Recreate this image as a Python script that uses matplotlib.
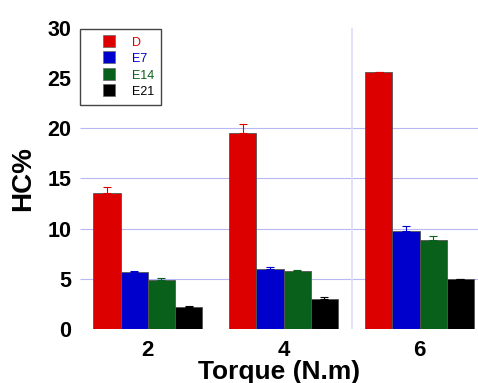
import numpy as np
import matplotlib.pyplot as plt
from matplotlib.lines import Line2D

# data
torque = [2, 4, 6]
series = ['D', 'E7', 'E14', 'E21']
hc_D = [13.5, 19.5, 25.6]
hc_E7 = [5.7, 6.0, 9.75]
hc_E14 = [4.9, 5.8, 8.9]
hc_E21 = [2.15, 3.0, 4.95]
err_D = [0.6, 0.9, 0.0]
err_E7 = [0.05, 0.2, 0.5]
err_E14 = [0.15, 0.05, 0.4]
err_E21 = [0.1, 0.2, 0.05]

colors = ['#dd0000', '#0000cc', '#08601a', '#000000']

plt.rcParams['font.family'] = ['Liberation Sans', 'DejaVu Sans']

fig = plt.figure(figsize=(4.78, 3.83), dpi=100)
ax = fig.add_axes([0.167, 0.141, 0.833, 0.787])

values = [hc_D, hc_E7, hc_E14, hc_E21]
errs = [err_D, err_E7, err_E14, err_E21]
width = 0.4
x = np.array(torque, dtype=float)

# light grid lines
ax.hlines([5, 10, 15, 20], 1, 7, colors='#b8b8f4', linewidth=0.8, zorder=0)
ax.vlines([5], 0, 30, colors='#dcdcfa', linewidth=1.2, zorder=0)

for i, (name, vals, e, c) in enumerate(zip(series, values, errs, colors)):
    offset = (i - 1.5) * width
    ax.bar(x + offset, vals, width, color=c, edgecolor='#555555', linewidth=0.6,
           zorder=2)
    ax.errorbar(x + offset, vals, yerr=[np.zeros(3), e], fmt='none', ecolor=c,
                elinewidth=0.8, capsize=3, capthick=0.8, zorder=3)

ax.set_xlim(1, 6.86)
ax.set_ylim(0, 30)
ax.set_xticks(torque)
ax.set_xticklabels([str(t) for t in torque])
ax.set_yticks([0, 5, 10, 15, 20, 25, 30])
for s in ax.spines.values():
    s.set_visible(False)
ax.tick_params(length=0, labelsize=15.5, pad=6)
for lab in ax.get_xticklabels() + ax.get_yticklabels():
    lab.set_fontweight('bold')
ax.tick_params(axis='x', labelsize=16, pad=8)

ax.set_xlabel('Torque (N.m)', fontsize=19, fontweight='bold', labelpad=-1)
ax.set_ylabel('HC%', fontsize=20, fontweight='bold', labelpad=8)

handles = [Line2D([], [], linestyle='none', marker='s', markersize=9,
                  markerfacecolor=c, markeredgecolor='#666666',
                  markeredgewidth=0.5) for c in colors]
leg = ax.legend(handles, series, loc='upper left', bbox_to_anchor=(0.0, 0.995),
                borderaxespad=0, fontsize=9, handlelength=3.5, handleheight=1.0,
                handletextpad=0.15, labelspacing=0.28, borderpad=0.55,
                fancybox=False, edgecolor='#444444', framealpha=1)
leg.get_frame().set_linewidth(1.0)
for t, c in zip(leg.get_texts(), colors):
    t.set_color(c)

fig.savefig('out.png', dpi=100)
